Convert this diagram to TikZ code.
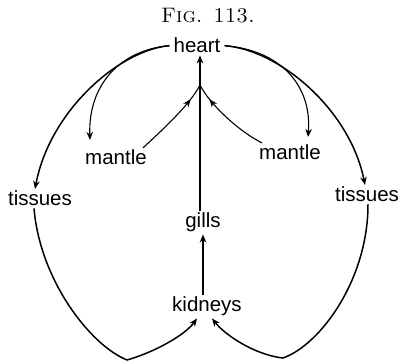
\documentclass[tikz,border=0pt]{standalone}
\usepackage{fontspec}
\newfontfamily\organfont{Liberation Sans}
\usetikzlibrary{arrows.meta,decorations.markings}

\tikzset{
    organ/.style={font=\organfont\fontsize{20.5}{24}\selectfont, inner sep=2pt, anchor=base},
    flow/.style={-{Stealth[length=8pt,width=6.5pt,inset=2.5pt]}, line width=1.1pt},
    bigflow/.style={flow, line width=1.5pt},
    midarrow/.style={line width=1.1pt, postaction={decorate},
        decoration={markings, mark=at position 0.8 with {\arrow{Stealth[length=8pt,width=6.5pt,inset=2.5pt]}}}}
}

\begin{document}
\begin{tikzpicture}[x=1pt, y=-1pt]
    \useasboundingbox (0,0) rectangle (399,363);
    % Title
    \node[font=\fontsize{21}{24}\selectfont, anchor=base] (title) at (208,23) {\textsc{Fig. 113.}};
    % Organs
    \node[organ] (heart) at (197,53) {heart};
    \node[organ] (mantleL) at (116,165) {mantle};
    \node[organ] (mantleR) at (290,160) {mantle};
    \node[organ] (tissuesL) at (40,206) {tissues};
    \node[organ] (tissuesR) at (367,202) {tissues};
    \node[organ] (gills) at (203,228) {gills};
    \node[organ] (kidneys) at (207,312) {kidneys};
    \coordinate (junc) at (200,85);
    \coordinate (botL) at (127,360);
    \coordinate (botR) at (283,358);
    % Heart to mantle and tissues
    \draw[bigflow] ([xshift=-2pt]heart.west) .. controls (120,50) and (50,110) .. ([xshift=-5pt]tissuesL.north);
    \draw[flow] ([xshift=-2pt]heart.west) .. controls (120,50) and (88,85) .. (90,140);
    \draw[bigflow] ([xshift=2pt]heart.east) .. controls (280,50) and (350,110) .. ([xshift=-2pt]tissuesR.north);
    \draw[flow] ([xshift=2pt]heart.east) .. controls (280,50) and (312,85) .. (308,137);
    % Mantle back to the main vessel
    \draw[midarrow] ([xshift=-6pt]mantleL.north east) .. controls (160,132) and (190,105) .. (junc);
    \draw[midarrow] ([xshift=-28pt]mantleR.north) .. controls (240,132) and (210,105) .. (junc);
    % Gills to heart, kidneys to gills
    \draw[flow, line width=1.5pt] (gills.north -| junc) -- (heart.south -| junc);
    \draw[flow, line width=1.3pt] (kidneys.north -| gills) -- (gills.south);
    % Tissues round to kidneys
    \draw[bigflow] ([xshift=-6pt]tissuesL.south) .. controls (40,280) and (90,345) .. (botL)
        .. controls (155,352) and (185,335) .. ([xshift=-10pt]kidneys.south);
    \draw[bigflow] ([xshift=1pt]tissuesR.south) .. controls (368,280) and (320,345) .. (botR)
        .. controls (255,355) and (225,335) .. ([xshift=5pt]kidneys.south);
\end{tikzpicture}
\end{document}
